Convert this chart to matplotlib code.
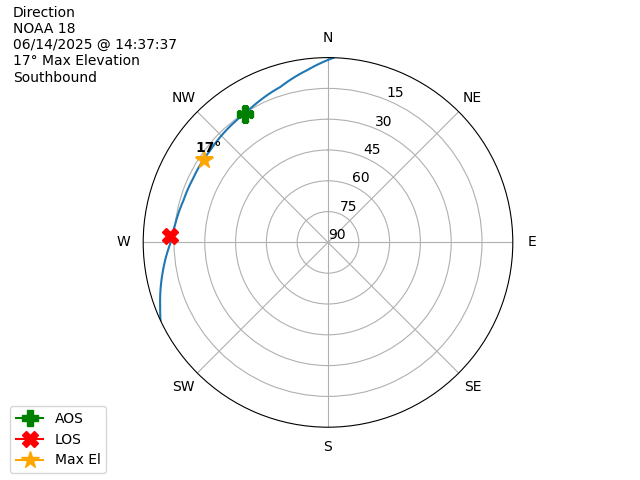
import numpy as np
import matplotlib
matplotlib.use("Agg")
import matplotlib.pyplot as plt

# Pass track (azimuth deg, elevation deg)
track_az = [361.8, 353.1, 343.0, 334.6, 329.0, 324.2, 314.4, 308.1, 302.6,
            295.3, 286.2, 277.0, 269.6, 259.4, 248.9, 245.0]
track_el = [0.0, 5.5, 10.8, 13.3, 14.9, 15.6, 16.6, 17.2, 17.2,
            17.3, 16.7, 15.1, 13.2, 8.0, 2.4, 0.0]

aos = (327.0, 15.5)
los = (272.3, 13.1)
max_el = (303.5, 17.6)
max_el_label = "17°"

el_ticks = [90, 75, 60, 45, 30, 15]
dir_labels = ["N", "NE", "E", "SE", "S", "SW", "W", "NW"]

info = "Direction\nNOAA 18\n06/14/2025 @ 14:37:37\n17° Max Elevation\nSouthbound"


def to_r(el):
    return 90 - np.asarray(el)


fig = plt.figure(figsize=(6.4, 4.8), dpi=100)
ax = fig.add_subplot(111, projection="polar")
ax.set_theta_zero_location("N")
ax.set_theta_direction(-1)

track, = ax.plot(np.radians(track_az), to_r(track_el))
# draw the segments as arcs in polar space instead of straight chords
track._path._interpolation_steps = 40

ax.plot(np.radians(aos[0]), to_r(aos[1]), marker="P", color="green",
        markersize=12, label="AOS")
ax.plot(np.radians(los[0]), to_r(los[1]), marker="X", color="red",
        markersize=12, label="LOS")
ax.plot(np.radians(max_el[0]), to_r(max_el[1]), marker="*", color="orange",
        markersize=13, label="Max El")
ax.annotate(max_el_label, (np.radians(max_el[0]), to_r(max_el[1])),
            xytext=(3, 4), textcoords="offset points",
            ha="center", va="bottom", fontweight="bold")

ax.set_ylim(0, 90)
ax.set_yticks(to_r(el_ticks))
ax.set_yticklabels([str(e) for e in el_ticks])
ax.set_xticks(np.radians(np.arange(0, 360, 45)))
ax.set_xticklabels(dir_labels)

fig.text(0.02, 0.988, info, va="top", ha="left", fontsize=10)
fig.legend(loc="lower left", bbox_to_anchor=(0.005, 0.0))

fig.savefig("out.png")
